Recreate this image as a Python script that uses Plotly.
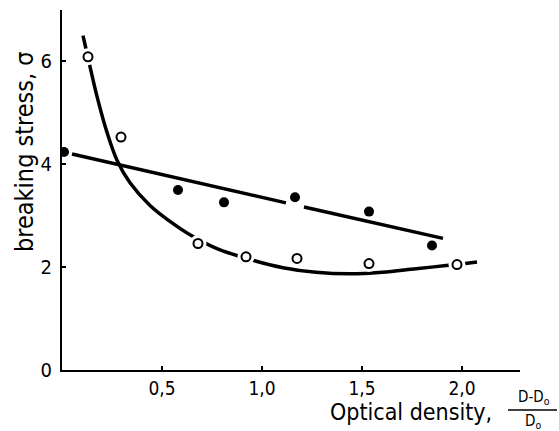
import plotly.graph_objects as go

# ---- data ----
filled_x = [0.01, 0.58, 0.81, 1.165, 1.535, 1.85]
filled_y = [4.24, 3.50, 3.26, 3.36, 3.08, 2.42]

open_x = [0.13, 0.295, 0.68, 0.92, 1.175, 1.535, 1.975]
open_y = [6.09, 4.53, 2.46, 2.20, 2.17, 2.07, 2.05]

# straight line through filled points (broken near one point, as drawn)
line_x = [0.05, 1.12, None, 1.21, 1.905]
line_y = [4.20, 3.25, None, 3.17, 2.56]

# smooth curve through open points
curve_x = [0.105, 0.14, 0.175, 0.225, 0.275, 0.34, 0.44, 0.54, 0.64, 0.775,
           0.94, 1.105, 1.27, 1.44, 1.6, 1.77, 1.92, 2.075]
curve_y = [6.5, 5.9, 5.32, 4.62, 4.08, 3.64, 3.2, 2.89, 2.63, 2.36,
           2.15, 1.99, 1.9, 1.87, 1.9, 1.97, 2.03, 2.1]

x_ticks = [0.5, 1.0, 1.5, 2.0]
x_tick_labels = ["0,5", "1,0", "1,5", "2,0"]
y_ticks = [0, 2, 4, 6]
y_tick_labels = ["0", "2", "4", "6"]

FONT = "DejaVu Sans Condensed, DejaVu Sans"
TICKFONT = "Liberation Sans Narrow, DejaVu Sans Condensed, DejaVu Sans"

W, H = 559, 431
L, R, T, B = 62, 520, 10, 370


def px(xp):
    return (xp - L) / (R - L)


def py(yp):
    return (B - yp) / (B - T)


fig = go.Figure()
fig.add_trace(go.Scatter(x=line_x, y=line_y, mode="lines",
                         line=dict(color="black", width=3.5), hoverinfo="skip"))
fig.add_trace(go.Scatter(x=curve_x, y=curve_y, mode="lines",
                         line=dict(color="black", width=3.5, shape="spline", smoothing=1.0),
                         hoverinfo="skip"))
# white halos to break the lines around markers
fig.add_trace(go.Scatter(x=open_x, y=open_y, mode="markers",
                         marker=dict(color="white", size=17, line=dict(width=0)), hoverinfo="skip"))
fig.add_trace(go.Scatter(x=[filled_x[3]], y=[filled_y[3]], mode="markers",
                         marker=dict(color="white", size=14, line=dict(width=0)), hoverinfo="skip"))
fig.add_trace(go.Scatter(x=open_x, y=open_y, mode="markers",
                         marker=dict(color="white", size=9, line=dict(color="black", width=2))))
fig.add_trace(go.Scatter(x=filled_x, y=filled_y, mode="markers",
                         marker=dict(color="black", size=10, line=dict(width=0))))

fig.update_layout(
    width=W, height=H,
    margin=dict(l=L, r=W - R, t=T, b=H - B),
    paper_bgcolor="white", plot_bgcolor="white",
    showlegend=False,
    font=dict(family=FONT, color="black"),
    xaxis=dict(range=[0, 2.29], showline=True, linecolor="black", linewidth=2,
               showgrid=False, zeroline=False, tickvals=x_ticks, ticktext=x_tick_labels,
               ticks="inside", ticklen=4, tickwidth=1.5, tickcolor="black",
               tickfont=dict(size=19, family=TICKFONT), ticklabelstandoff=0),
    yaxis=dict(range=[0, 7], showline=True, linecolor="black", linewidth=2,
               showgrid=False, zeroline=False, tickvals=y_ticks, ticktext=y_tick_labels,
               ticks="inside", ticklen=4, tickwidth=1.5, tickcolor="black",
               tickfont=dict(size=20, family=TICKFONT), ticklabelstandoff=4),
)

fig.add_annotation(text="breaking stress, σ", xref="paper", yref="paper",
                   x=px(24), y=py(152), showarrow=False, textangle=-90,
                   font=dict(size=25, family=FONT), xanchor="center", yanchor="middle")
fig.add_annotation(text="Optical density,", xref="paper", yref="paper",
                   x=px(411), y=py(412), showarrow=False,
                   font=dict(size=23, family=FONT), xanchor="center", yanchor="middle")
fig.add_annotation(text="D-D<sub>o</sub>", xref="paper", yref="paper",
                   x=px(534), y=py(397), showarrow=False,
                   font=dict(size=15, family=FONT), xanchor="center", yanchor="middle")
fig.add_annotation(text="D<sub>o</sub>", xref="paper", yref="paper",
                   x=px(533), y=py(421), showarrow=False,
                   font=dict(size=15, family=FONT), xanchor="center", yanchor="middle")
fig.add_shape(type="line", xref="paper", yref="paper",
              x0=px(508), x1=px(557), y0=py(410), y1=py(410),
              line=dict(color="black", width=1.5))

fig.write_html("out.html")
